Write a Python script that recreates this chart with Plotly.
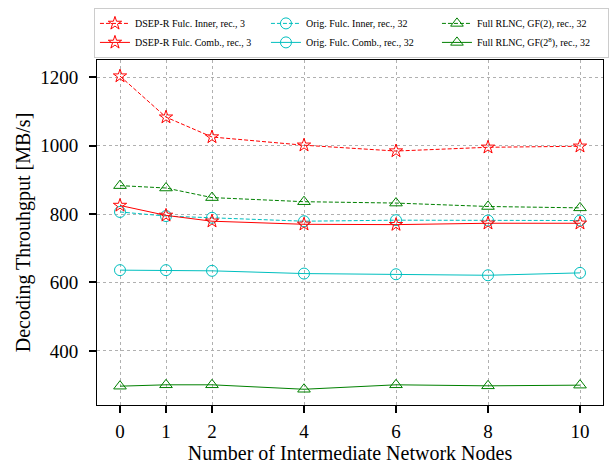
import plotly.graph_objects as go

nodes = [0, 1, 2, 4, 6, 8, 10]

dsep_inner = [1203, 1083, 1025, 1001, 984, 995, 998]
dsep_comb = [825, 796, 779, 770, 769, 773, 773]
orig_inner = [806, 794, 789, 779, 782, 781, 781]
orig_comb = [636, 636, 634, 626, 624, 621, 628]
rlnc_gf2 = [883, 876, 848, 836, 832, 822, 818]
rlnc_gf28 = [297, 301, 301, 288, 301, 298, 300]

x_ticks = [0, 1, 2, 4, 6, 8, 10]
y_ticks = [400, 600, 800, 1000, 1200]

FONT = "Liberation Serif, Times New Roman, serif"
RED = "#ff0000"
CYAN = "#00bfbf"
GREEN = "#008000"

series = [
    # name, values, color, dash, symbol, size, rank
    ("DSEP-R Fulc. Inner, rec., 3", dsep_inner, RED, "4px,2px", "star-open", 10, 1),
    ("Orig. Fulc. Inner, rec., 32", orig_inner, CYAN, "4px,2px", "circle-open", 11, 2),
    ("Full RLNC, GF(2), rec., 32", rlnc_gf2, GREEN, "4px,2px", "triangle-up-open", 11, 3),
    ("DSEP-R Fulc. Comb., rec., 3", dsep_comb, RED, "solid", "star-open", 10, 4),
    ("Orig. Fulc. Comb., rec., 32", orig_comb, CYAN, "solid", "circle-open", 11, 5),
    ("Full RLNC, GF(2<sup>8</sup>), rec., 32", rlnc_gf28, GREEN, "solid", "triangle-up-open", 11, 6),
]

fig = go.Figure()
for name, vals, color, dash, symbol, size, rank in series:
    fig.add_trace(go.Scatter(
        x=nodes, y=vals, name=name, mode="lines+markers",
        line=dict(color=color, width=1, dash=dash),
        marker=dict(symbol=symbol, size=size, color=color,
                    line=dict(color=color, width=1)),
        legendrank=rank,
    ))

axis_common = dict(
    showline=True, linecolor="black", linewidth=1, mirror=True,
    ticks="outside", ticklen=7, tickwidth=2, tickcolor="black",
    showgrid=True, gridcolor="#b0b0b0", griddash="dot", gridwidth=1,
    zeroline=False,
    tickfont=dict(family=FONT, size=19, color="black"),
    title_font=dict(family=FONT, size=20, color="black"),
)

fig.update_xaxes(
    range=[-0.5, 10.5], tickvals=x_ticks, ticktext=[str(v) for v in x_ticks],
    title_text="Number of Intermediate Network Nodes", title_standoff=2,
    ticklabelstandoff=2,
    **axis_common,
)
fig.update_yaxes(
    range=[242, 1250], tickvals=y_ticks, ticktext=[str(v) for v in y_ticks],
    title_text="Decoding Throuhgput [MB/s]", title_standoff=4,
    ticklabelstandoff=7,
    **axis_common,
)

fig.update_layout(
    width=610, height=464,
    margin=dict(l=97, r=7, t=60, b=59),
    paper_bgcolor="white", plot_bgcolor="white",
    font=dict(family=FONT, color="black"),
    legend=dict(
        orientation="h", x=-0.006, y=1.151, xanchor="left", yanchor="top",
        entrywidth=126, entrywidthmode="pixels",
        font=dict(family=FONT, size=10, color="black"),
        bgcolor="white", bordercolor="#cccccc", borderwidth=1,
        itemwidth=30, tracegroupgap=0,
    ),
)

fig.write_html("out.html")
